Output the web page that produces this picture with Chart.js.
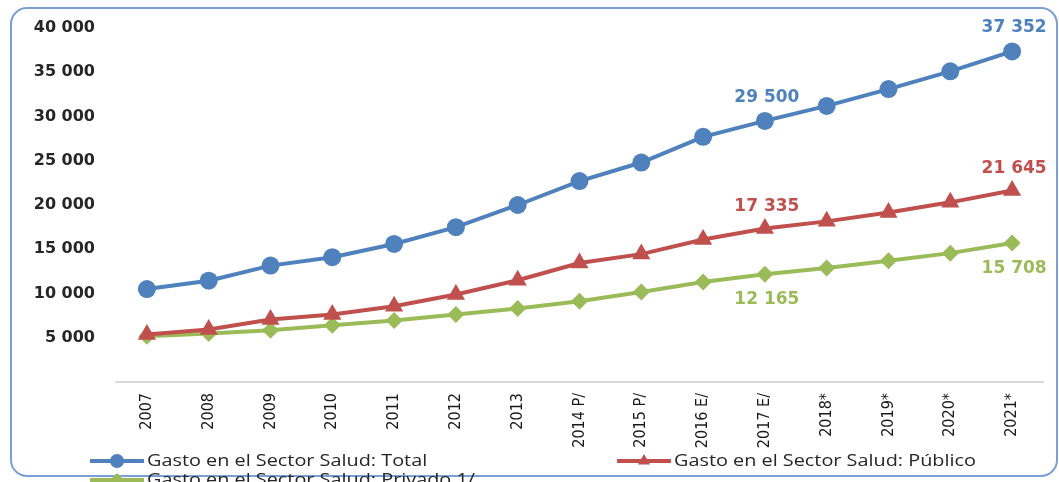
<!DOCTYPE html>
<html>
<head>
<meta charset="utf-8">
<script src="https://cdn.jsdelivr.net/npm/chart.js@4.4.0/dist/chart.umd.min.js"></script>
<style>
  html, body { margin: 0; padding: 0; background: #fff; }
  #wrap { width: 1059px; height: 482px; position: relative; }
</style>
</head>
<body>
<div id="wrap"><canvas id="gastoChart" width="1059" height="482"></canvas></div>
<script>
const years = ['2007', '2008', '2009', '2010', '2011', '2012', '2013', '2014 P/', '2015 P/',
               '2016 E/', '2017 E/', '2018*', '2019*', '2020*', '2021*'];
const total = [10500, 11450, 13150, 14100, 15600, 17500, 20000, 22700, 24800, 27700,
               29500, 31200, 33100, 35100, 37352];
const publico = [5370, 5930, 7060, 7620, 8560, 9880, 11500, 13450, 14450, 16100,
                 17335, 18150, 19150, 20300, 21645];
const privado = [5180, 5480, 5860, 6420, 6950, 7620, 8300, 9120, 10170, 11300,
                 12165, 12870, 13700, 14560, 15708];
const yTicks = [0, 5000, 10000, 15000, 20000, 25000, 30000, 35000, 40000];

// which points get a value label: [dataset, index, dy]
const shownLabels = [
    [0, 10, -23], [0, 14, -24],
    [1, 10, -22], [1, 14, -22],
    [2, 10, 25], [2, 14, 26]
];

const BLUE = '#4f81bd';
const RED = '#c0504d';
const GREEN = '#9bbb59';

function fmt(v) {
    return String(v).replace(/\B(?=(\d{3})+(?!\d))/g, ' ');
}

const decorPlugin = {
    id: 'decor',
    beforeDraw(chart) {
        const ctx = chart.ctx;
        ctx.save();
        ctx.strokeStyle = '#7aa0d4';
        ctx.lineWidth = 2;
        ctx.beginPath();
        ctx.roundRect(11, 8, 1046, 468, 16);
        ctx.stroke();
        ctx.restore();
    },
    afterDatasetsDraw(chart) {
        const ctx = chart.ctx;
        ctx.save();
        ctx.font = 'bold 17px "DejaVu Sans"';
        ctx.textAlign = 'center';
        ctx.textBaseline = 'middle';
        shownLabels.forEach(([d, i, dy]) => {
            const pt = chart.getDatasetMeta(d).data[i];
            ctx.fillStyle = chart.data.datasets[d].borderColor;
            ctx.fillText(fmt(chart.data.datasets[d].data[i]), pt.x + 2, pt.y + dy);
        });

        // legend, laid out like the original two-column block
        const spots = [[90, 461], [617, 461], [90, 480]];
        ctx.font = '16px "Open Sans"';
        ctx.textAlign = 'left';
        chart.data.datasets.forEach((ds, k) => {
            const [x, y] = spots[k];
            ctx.strokeStyle = ds.borderColor;
            ctx.lineWidth = 4;
            ctx.beginPath();
            ctx.moveTo(x, y);
            ctx.lineTo(x + 54, y);
            ctx.stroke();
            ctx.fillStyle = ds.borderColor;
            Chart.helpers.drawPoint(ctx, {
                pointStyle: ds.pointStyle, radius: 7, rotation: 0, borderWidth: 0
            }, x + 27, y);
            // the original text is stretched sideways
            ctx.save();
            ctx.translate(x + 57, y);
            ctx.scale(1.24, 1);
            ctx.fillStyle = '#262626';
            ctx.fillText(ds.label, 0, 0);
            ctx.restore();
        });
        ctx.restore();
    }
};

function series(label, data, color, style, r) {
    return {
        label: label,
        data: data,
        borderColor: color,
        backgroundColor: color,
        borderWidth: 4,
        pointStyle: style,
        pointRadius: r,
        pointHoverRadius: r,
        pointBorderWidth: 0,
        tension: 0
    };
}

new Chart(document.getElementById('gastoChart'), {
    type: 'line',
    data: {
        labels: years,
        datasets: [
            series('Gasto en el Sector Salud: Total', total, BLUE, 'circle', 9),
            series('Gasto en el Sector Salud: Público', publico, RED, 'triangle', 10.5),
            series('Gasto en el Sector Salud: Privado 1/', privado, GREEN, 'rectRot', 8.5)
        ]
    },
    options: {
        responsive: false,
        animation: false,
        layout: { padding: { left: 0, top: 28, right: 16, bottom: 0 } },
        plugins: {
            legend: { display: false },
            tooltip: { enabled: false }
        },
        scales: {
            x: {
                offset: true,
                grid: { display: false },
                border: { display: true, color: '#d9d9d9', width: 2 },
                ticks: {
                    maxRotation: 90,
                    minRotation: 90,
                    padding: 3,
                    color: '#1a1a1a',
                    font: { family: '"DejaVu Sans Condensed", "DejaVu Sans"', size: 16 }
                },
                afterFit(scale) { scale.height = 100; }
            },
            y: {
                min: 0,
                max: 40000,
                afterBuildTicks(scale) { scale.ticks = yTicks.map(v => ({ value: v })); },
                grid: { display: false },
                border: { display: false },
                ticks: {
                    padding: 13,
                    color: '#262626',
                    font: { family: '"DejaVu Sans"', size: 16, weight: 'bold' },
                    callback: v => (v === 0 ? '' : fmt(v))
                },
                afterFit(scale) { scale.width = 116; }
            }
        }
    },
    plugins: [decorPlugin]
});
</script>
</body>
</html>
